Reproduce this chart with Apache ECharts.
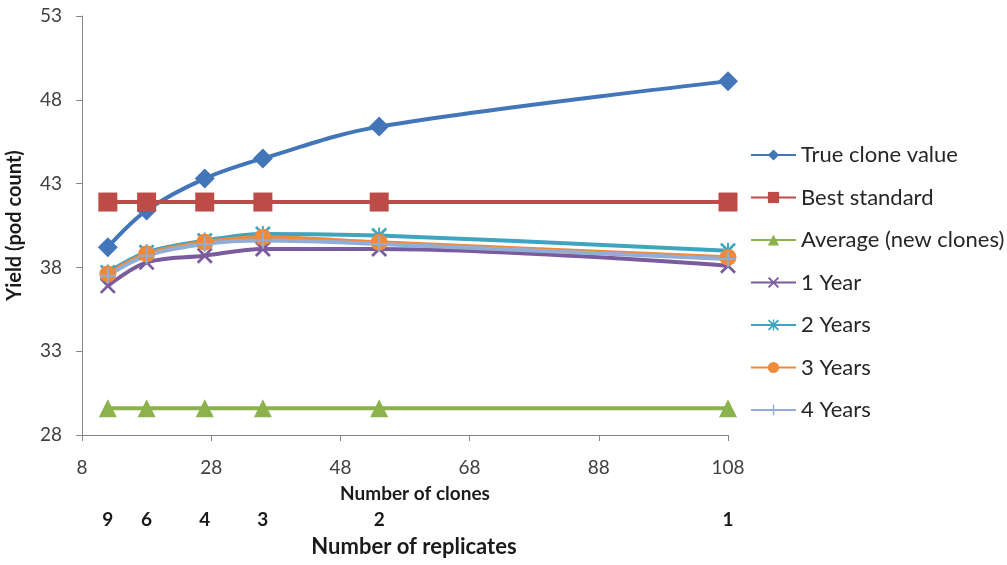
<!DOCTYPE html>
<html>
<head>
<meta charset="utf-8">
<script src="https://cdn.jsdelivr.net/npm/echarts@6/dist/echarts.min.js"></script>
<style>
  html, body { margin: 0; padding: 0; background: #fff; }
  #chart { width: 1007px; height: 565px; }
</style>
</head>
<body>
<div id="chart"></div>
<script>
// Number of clones tested at each step and the matching replicate count
const clones = [12, 18, 27, 36, 54, 108];
const replicates = [9, 6, 4, 3, 2, 1];

// Yield (pod count) for each series
const trueCloneValue = [39.2, 41.4, 43.3, 44.5, 46.4, 49.1];
const bestStandard = [41.9, 41.9, 41.9, 41.9, 41.9, 41.9];
const averageNew = [29.6, 29.6, 29.6, 29.6, 29.6, 29.6];
const year1 = [36.9, 38.3, 38.7, 39.1, 39.1, 38.1];
const year2 = [37.7, 38.9, 39.6, 40.0, 39.9, 39.0];
const year3 = [37.6, 38.8, 39.5, 39.8, 39.5, 38.6];
const year4 = [37.5, 38.7, 39.4, 39.6, 39.4, 38.5];

const xTicks = { min: 8, max: 108, interval: 20 };
const yTicks = { min: 28, max: 53, interval: 5 };

// Marker outlines
const SYM_X = 'path://M0,1.2 L1.2,0 L10,8.8 L8.8,10 Z M8.8,0 L10,1.2 L1.2,10 L0,8.8 Z';
const SYM_STAR = 'path://M0,1.2 L1.2,0 L10,8.8 L8.8,10 Z M8.8,0 L10,1.2 L1.2,10 L0,8.8 Z M4.4,0 H5.6 V10 H4.4 Z';
const SYM_PLUS = 'path://M4.4,0 H5.6 V4.4 H10 V5.6 H5.6 V10 H4.4 V5.6 H0 V4.4 H4.4 Z';

const FONT = 'Lato, "Open Sans", sans-serif';

function pairs(values) {
  return clones.map((c, i) => [c, values[i]]);
}

function lineSeries(name, values, color, symbol, size) {
  return {
    name: name,
    type: 'line',
    data: pairs(values),
    smooth: 0.35,
    symbol: symbol,
    symbolSize: size,
    showSymbol: true,
    lineStyle: { color: color, width: 4 },
    itemStyle: { color: color },
    z: 2
  };
}

const chart = echarts.init(document.getElementById('chart'), null, { renderer: 'canvas' });

chart.setOption({
  backgroundColor: '#ffffff',
  animation: false,
  grid: { left: 82, right: 279, top: 16, bottom: 130, outerBoundsMode: 'none', containLabel: false },
  legend: {
    orient: 'vertical',
    left: 745,
    top: 139,
    itemGap: 20.5,
    itemWidth: 45,
    itemHeight: 14,
    textStyle: { fontSize: 22, color: '#262626', fontFamily: FONT },
    data: ['True clone value', 'Best standard', 'Average (new clones)', '1 Year', '2 Years', '3 Years', '4 Years']
  },
  xAxis: [
    {
      type: 'value',
      min: xTicks.min,
      max: xTicks.max,
      interval: xTicks.interval,
      position: 'bottom',
      name: 'Number of clones',
      nameLocation: 'middle',
      nameGap: 49,
      nameTextStyle: { fontSize: 19, fontWeight: 'bold', color: '#1a1a1a', fontFamily: FONT, padding: [0, 0, 0, 20] },
      axisLine: { show: true, lineStyle: { color: '#868686', width: 1 } },
      axisTick: { show: true, inside: false, length: 6, lineStyle: { color: '#868686' } },
      axisLabel: { fontSize: 19, margin: 23, color: '#404040', fontFamily: FONT },
      splitLine: { show: false }
    },
    {
      type: 'value',
      min: xTicks.min,
      max: xTicks.max,
      position: 'bottom',
      offset: 73,
      name: 'Number of replicates',
      nameLocation: 'middle',
      nameGap: 28,
      nameTextStyle: { fontSize: 22, fontWeight: 'bold', color: '#1a1a1a', fontFamily: FONT, padding: [0, 0, 0, 18] },
      axisLine: { show: false },
      axisTick: { show: false },
      axisLabel: {
        customValues: clones,
        formatter: function (v) {
          const i = clones.indexOf(v);
          return i >= 0 ? String(replicates[i]) : '';
        },
        fontSize: 19,
        fontWeight: 'bold',
        color: '#1a1a1a',
        fontFamily: FONT,
        margin: 2
      },
      splitLine: { show: false }
    }
  ],
  yAxis: {
    type: 'value',
    min: yTicks.min,
    max: yTicks.max,
    interval: yTicks.interval,
    name: 'Yield (pod count)',
    nameLocation: 'middle',
    nameGap: 57,
    nameTextStyle: { fontSize: 20, fontWeight: 'bold', color: '#1a1a1a', fontFamily: FONT },
    axisLine: { show: true, lineStyle: { color: '#868686', width: 1 } },
    axisTick: { show: true, inside: false, length: 6, lineStyle: { color: '#868686' } },
    axisLabel: { fontSize: 19, margin: 20, color: '#404040', fontFamily: FONT },
    splitLine: { show: false }
  },
  series: [
    lineSeries('True clone value', trueCloneValue, '#4276B9', 'diamond', 20),
    lineSeries('Best standard', bestStandard, '#BD4B48', 'rect', 19),
    lineSeries('Average (new clones)', averageNew, '#8CB24C', 'triangle', 18),
    lineSeries('1 Year', year1, '#7A5B9E', SYM_X, 16),
    lineSeries('2 Years', year2, '#3FA5BE', SYM_STAR, 16),
    lineSeries('3 Years', year3, '#EE8A3C', 'circle', 17),
    lineSeries('4 Years', year4, '#92AED6', SYM_PLUS, 16)
  ]
});
</script>
</body>
</html>
